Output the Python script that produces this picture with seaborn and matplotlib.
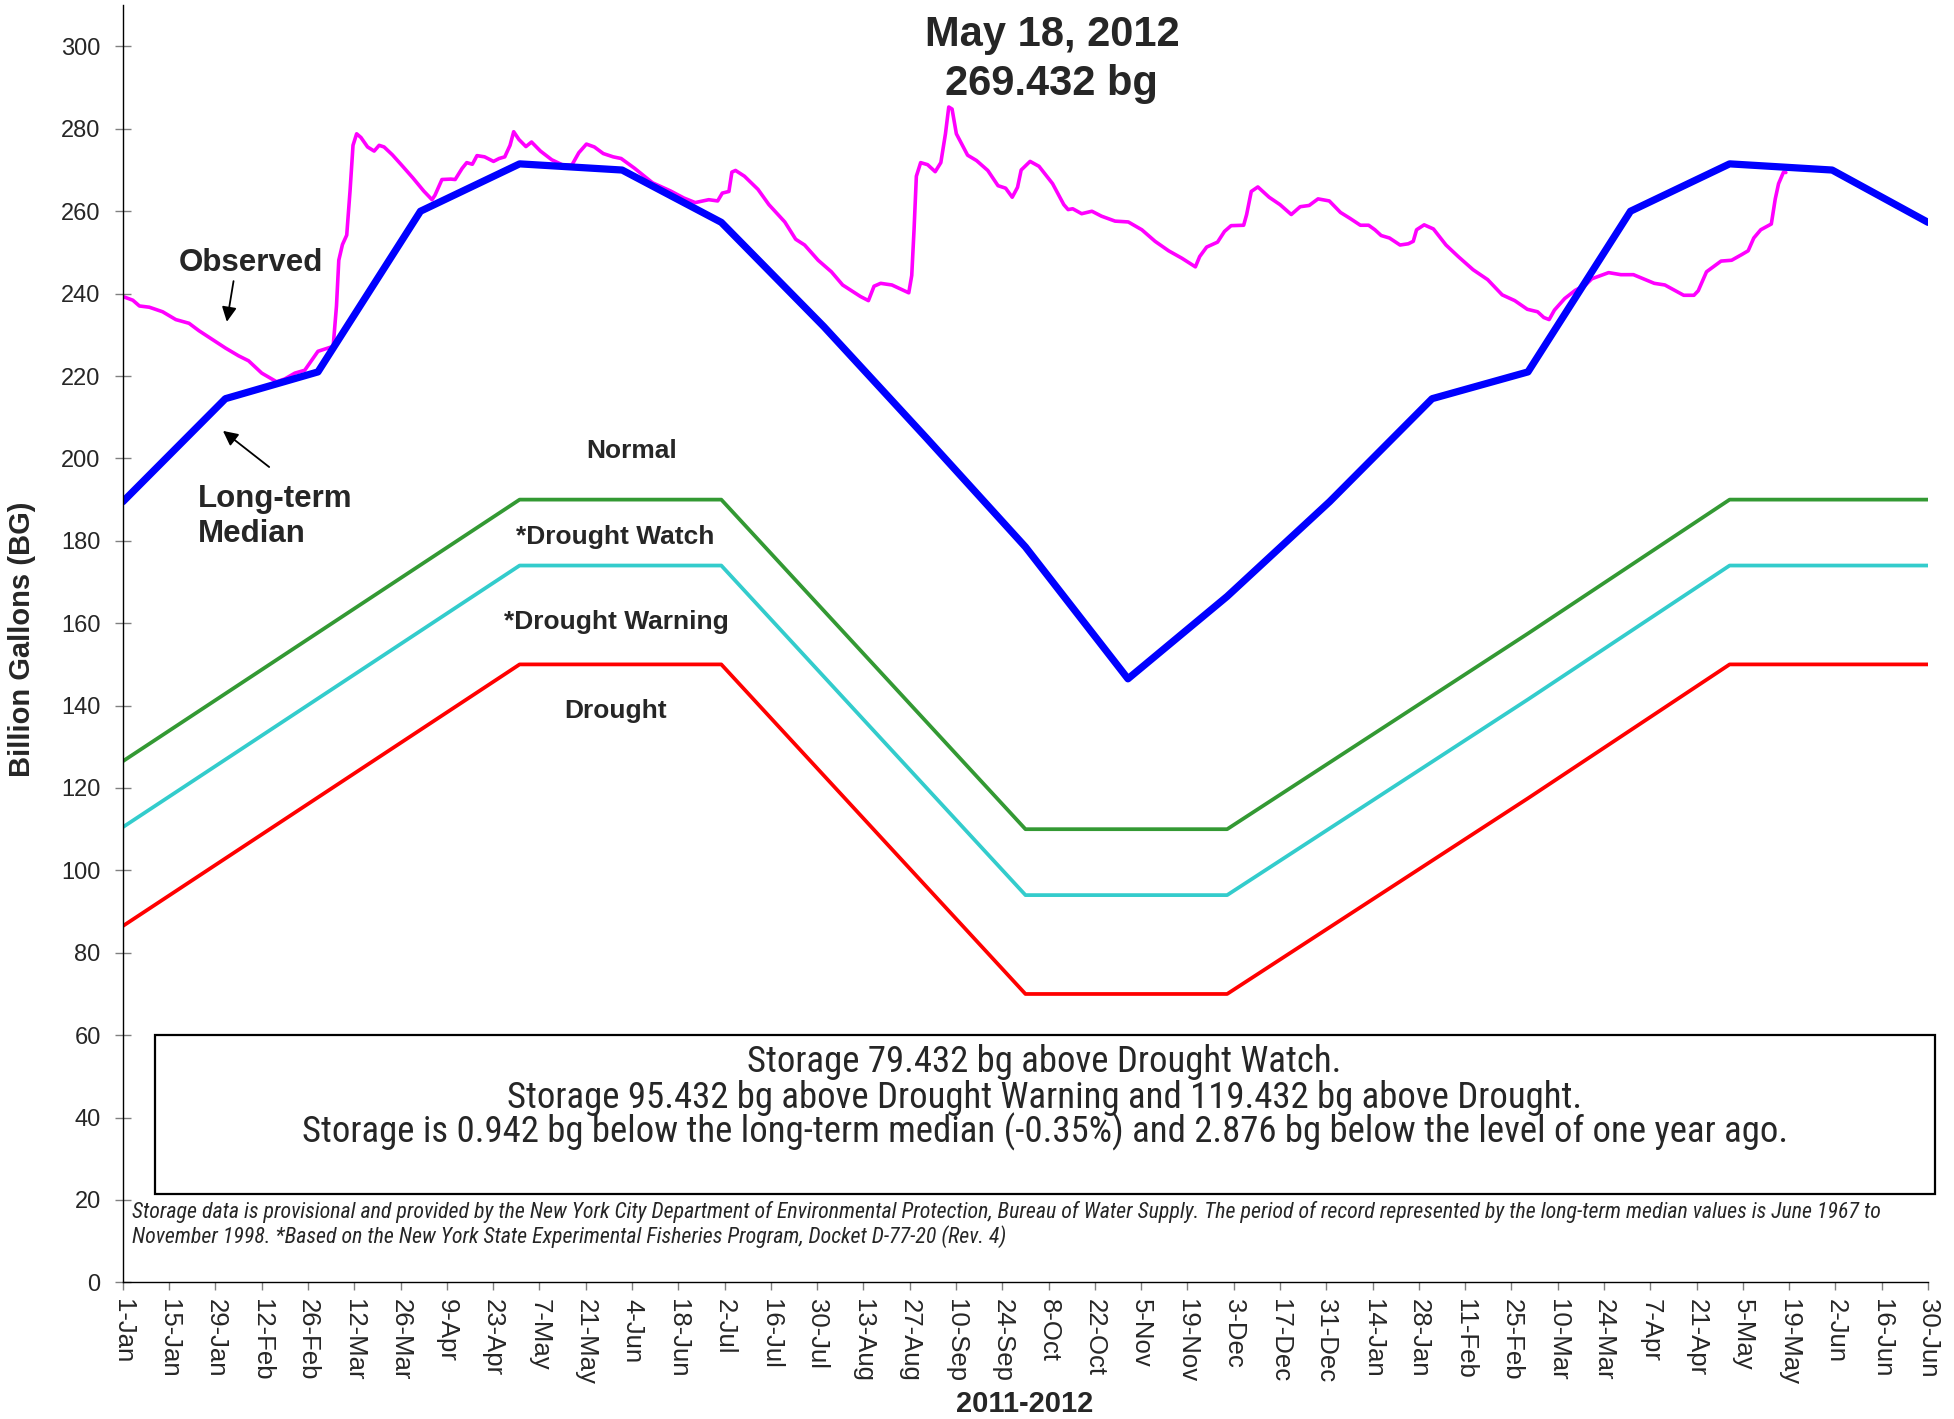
import pandas as pd
import matplotlib
matplotlib.use('Agg')
import matplotlib.pyplot as plt
import seaborn as sns
from matplotlib import font_manager
from matplotlib.font_manager import FontProperties
from matplotlib.patches import Rectangle

start = pd.Timestamp('2011-01-01')

# long-term median (first of each month)
median_date = ['2011-01-01', '2011-02-01', '2011-03-01', '2011-04-01', '2011-05-01', '2011-06-01',
               '2011-07-01', '2011-08-01', '2011-09-01', '2011-10-01', '2011-11-01', '2011-12-01',
               '2012-01-01', '2012-02-01', '2012-03-01', '2012-04-01', '2012-05-01', '2012-06-01',
               '2012-06-30']
median_bg = [189.5, 214.5, 221, 260, 271.5, 270, 257.3, 232, 205, 178.5, 146.5, 166.5,
             189.5, 214.5, 221, 260, 271.5, 270, 257.3]

# drought rule curves
rule_date = ['2011-01-01', '2011-05-01', '2011-07-01', '2011-10-01', '2011-12-01',
             '2012-03-01', '2012-05-01', '2012-06-30']
watch_bg = [126.5, 190, 190, 110, 110, 157.5, 190, 190]
warning_bg = [110.5, 174, 174, 94, 94, 141.5, 174, 174]
drought_bg = [86.5, 150, 150, 70, 70, 117.5, 150, 150]

# observed storage, days since 1-Jan-2011
obs_day = [0, 3, 5, 8, 12, 16, 20, 23, 27, 31, 35, 38, 42, 46.5, 49, 52, 55, 59, 62, 63.6,
           64.6, 65.3, 66.4, 67.7, 68.7, 69.6, 70.7, 72, 74, 76, 77.5, 79, 81.5, 84.3, 87.7, 91,
           93.5, 94.4, 96.5, 99.2, 100.5, 102.6, 104, 105.7, 107.1, 109.4, 112.1, 113.8, 115.5,
           117.1, 118.2, 119.8, 121.9, 123.6, 126.3, 129.7, 133.1, 135.8, 137.9, 140.2, 142.6,
           145.3, 148.3, 150.7, 154.8, 160.2, 165.7, 169.7, 173.1, 177.2, 179.9, 181.3, 183.3,
           184.2, 185.3, 188, 192.1, 195.4, 200.2, 203.5, 206.2, 210.3, 214.3, 217.7, 220.4,
           223.1, 225.5, 227.2, 229.2, 232.6, 235.3, 237.7, 238.6, 239.3, 240, 241.3, 243.4,
           245.7, 247.4, 248.8, 249.8, 250.8, 252.1, 255.5, 258.2, 261.6, 264.7, 267, 269,
           270.6, 271.7, 274.4, 277.1, 281.2, 284.6, 285.9, 287.3, 290, 293.1, 296, 300.1,
           304.1, 308.2, 312.2, 316.3, 320.3, 324.4, 325.7, 327.8, 331.1, 333.2, 335.2, 339,
           339.9, 341.3, 343.3, 346.7, 350, 353.4, 356.1, 358.8, 361.5, 364.9, 368.3, 371.1,
           374.3, 376.8, 378.7, 380.6, 383.1, 386.3, 388.8, 390.3, 391.3, 393.6, 396.4, 400.2,
           403.9, 408.4, 412.8, 417.2, 421, 424.8, 427.9, 429.8, 431.4, 433, 436.1, 439.3,
           442.4, 444.3, 449.4, 453.1, 456.9, 463.2, 466.4, 472.1, 475.2, 476.5, 479, 483.4,
           486.6, 489.7, 491.6, 493.3, 495.4, 498.6, 499.8, 500.8, 502.3, 503]
obs_bg = [239.3, 238.4, 237.0, 236.7, 235.6, 233.7, 232.8, 231.0, 228.9, 226.8, 224.9, 223.7,
          220.7, 218.6, 219.3, 220.7, 221.4, 226.0, 226.8, 227.2, 237, 248.1, 251.9, 254.2,
          264.9, 276, 278.8, 277.9, 275.6, 274.6, 276.0, 275.6, 273.7, 271.2, 268.1, 264.9,
          262.8, 263.9, 267.7, 267.8, 267.7, 270.4, 271.8, 271.4, 273.5, 273.2, 272.1, 272.8,
          273.2, 276.0, 279.3, 277.4, 275.7, 276.8, 274.6, 272.5, 271.2, 271.2, 274.2, 276.3,
          275.6, 274.0, 273.2, 272.8, 270.4, 266.9, 264.9, 263.2, 262.1, 262.8, 262.5, 264.4,
          264.8, 269.5, 269.9, 268.5, 265.3, 261.6, 257.4, 253.2, 251.8, 248.1, 245.3, 242.1,
          240.7, 239.3, 238.3, 241.8, 242.5, 242.1, 241.1, 240.2, 244.4, 255.5, 268.5, 271.8,
          271.3, 269.6, 271.8, 278.8, 285.3, 284.8, 278.8, 273.6, 272.3, 269.9, 266.2, 265.6,
          263.4, 265.8, 270.0, 272.1, 270.9, 266.7, 261.6, 260.4, 260.6, 259.4, 260.0, 258.8,
          257.6, 257.4, 255.5, 252.7, 250.4, 248.6, 246.5, 249.0, 251.3, 252.5, 255.1, 256.5,
          256.6, 259.2, 264.8, 265.9, 263.4, 261.6, 259.2, 261.1, 261.4, 263.0, 262.5, 259.7,
          258.3, 256.6, 256.6, 255.5, 254.1, 253.5, 251.8, 252.1, 252.7, 255.5, 256.7, 255.7,
          251.8, 249.0, 245.8, 243.4, 239.7, 238.3, 236.2, 235.6, 234.2, 233.7, 236.0, 238.8,
          240.8, 242.1, 243.6, 245.1, 244.6, 244.6, 242.5, 242.1, 239.6, 239.6, 240.7, 245.3,
          247.9, 248.1, 249.5, 250.4, 253.5, 255.5, 256.9, 263.0, 266.7, 269.5, 269.4]

tick_dates = pd.date_range(start, '2012-06-30', freq='14D')
tick_labels = [d.strftime('%-d-%b') for d in tick_dates]

box_lines = ['Storage 79.432 bg above Drought Watch.',
             'Storage 95.432 bg above Drought Warning and 119.432 bg above Drought.',
             'Storage is 0.942 bg below the long-term median (-0.35%) and 2.876 bg below the level of one year ago.']
foot_lines = ['Storage data is provisional and provided by the New York City Department of Environmental '
              'Protection, Bureau of Water Supply. The period of record represented by the long-term median '
              'values is June 1967 to',
              'November 1998. *Based on the New York State Experimental Fisheries Program, Docket D-77-20 (Rev. 4)']


def days(dates):
    return [(pd.Timestamp(d) - start).days for d in dates]


def narrow_font(italic):
    # look for a condensed face, fall back to DejaVu Sans condensed
    order = ['Liberation Sans Narrow', 'Arial Narrow', 'Roboto Condensed', 'Noto Sans',
             'Open Sans', 'Roboto', 'DejaVu Sans']
    pool = []
    for f in font_manager.fontManager.ttflist:
        st = str(f.stretch)
        if not (st in ('condensed', 'semi-condensed') or 'Narrow' in f.name or 'Condensed' in f.name):
            continue
        if (f.style != 'normal') != italic:
            continue
        if f.weight not in (400, 'normal', 'regular', 'book'):
            continue
        rank = order.index(f.name) if f.name in order else len(order)
        pool.append((rank, 0 if st == 'condensed' else 1, f.fname))
    if pool:
        pool.sort()
        return FontProperties(fname=pool[0][2])
    return FontProperties(family='DejaVu Sans', stretch='condensed',
                          style='italic' if italic else 'normal')


def fit_size(txt, fp, target_px, renderer):
    fp = fp.copy()
    fp.set_size(20)
    t = fig.text(0, 0, txt, fontproperties=fp)
    w = t.get_window_extent(renderer).width
    t.remove()
    return 20 * target_px / w


sns.set_theme(style='white')
plt.rcParams['font.family'] = ['Liberation Sans', 'DejaVu Sans']

fig = plt.figure(figsize=(19.54, 14.19), dpi=100)
ax = fig.add_axes([0.0629, 0.0963, 0.9238, 0.9000])
renderer = fig.canvas.get_renderer()

sns.lineplot(x=days(rule_date), y=drought_bg, ax=ax, color='#FF0000', linewidth=2.7, estimator=None, sort=False)
sns.lineplot(x=days(rule_date), y=warning_bg, ax=ax, color='#33CCCC', linewidth=2.7, estimator=None, sort=False)
sns.lineplot(x=days(rule_date), y=watch_bg, ax=ax, color='#339933', linewidth=2.7, estimator=None, sort=False)
sns.lineplot(x=obs_day, y=obs_bg, ax=ax, color='#FF00FF', linewidth=2.6, estimator=None, sort=False)
sns.lineplot(x=days(median_date), y=median_bg, ax=ax, color='#0000FF', linewidth=5.2, estimator=None, sort=False)

ax.set_xlim(0, 546)
ax.set_ylim(0, 310)
ax.set_yticks(range(0, 301, 20))
ax.set_xticks(days(tick_dates))
ax.set_xticklabels(tick_labels, rotation=-90, fontsize=18.5)
ax.tick_params(axis='y', labelsize=17, direction='inout', length=12, width=1, color='#808080', pad=10, left=True)
ax.tick_params(axis='x', direction='out', length=6, width=1, color='#808080', pad=6, bottom=True)
ax.set_xlabel('')
ax.set_ylabel('')
for s in ['top', 'right']:
    ax.spines[s].set_visible(False)
for s in ['left', 'bottom']:
    ax.spines[s].set_color('black')
    ax.spines[s].set_linewidth(1)

# title
ax.text(281, 300, 'May 18, 2012', ha='center', va='baseline', fontsize=30, fontweight='bold')
ax.text(281, 288.3, '269.432 bg', ha='center', va='baseline', fontsize=30, fontweight='bold')

# series labels
ax.text(38.8, 245.5, 'Observed', ha='center', va='baseline', fontsize=22.5, fontweight='bold')
ax.annotate('', xy=(31.3, 232.5), xytext=(33.6, 243.7),
            arrowprops=dict(arrowstyle='-|>', color='black', lw=1.3, mutation_scale=22))
ax.text(22.8, 188.2, 'Long-term', ha='left', va='baseline', fontsize=22.5, fontweight='bold')
ax.text(22.8, 179.6, 'Median', ha='left', va='baseline', fontsize=22.5, fontweight='bold')
ax.annotate('', xy=(29.6, 207.1), xytext=(44.9, 197.5),
            arrowprops=dict(arrowstyle='-|>', color='black', lw=1.3, mutation_scale=22))

ax.text(154, 200.1, 'Normal', ha='center', va='baseline', fontsize=19, fontweight='bold')
ax.text(149, 179.2, '*Drought Watch', ha='center', va='baseline', fontsize=19, fontweight='bold')
ax.text(149.3, 158.6, '*Drought Warning', ha='center', va='baseline', fontsize=19, fontweight='bold')
ax.text(149, 137.1, 'Drought', ha='center', va='baseline', fontsize=19, fontweight='bold')

# summary box
fig.patches.append(Rectangle((0.0791, 0.1586), 0.9112, 0.1117, transform=fig.transFigure,
                             fill=False, edgecolor='black', linewidth=1.6))
box_fp = narrow_font(False)
box_fp.set_size(fit_size(box_lines[2], box_fp, 1483, renderer))
for txt, yv in zip(box_lines, [53.5, 44.7, 36.5]):
    ax.text(278.8, yv, txt, ha='center', va='center', fontproperties=box_fp)

foot_fp = narrow_font(True)
foot_fp.set_size(fit_size(foot_lines[0], foot_fp, 1750, renderer))
for txt, yv in zip(foot_lines, [17.0, 11.2]):
    ax.text(2.7, yv, txt, ha='left', va='center', fontproperties=foot_fp)

fig.text(22 / 1954, 0.5497, 'Billion Gallons (BG)', rotation=90, ha='center', va='center',
         fontsize=21, fontweight='bold')
fig.text(0.5246, 0.0106, '2011-2012', ha='center', va='center', fontsize=21, fontweight='bold')

fig.savefig('out.png', dpi=100)
